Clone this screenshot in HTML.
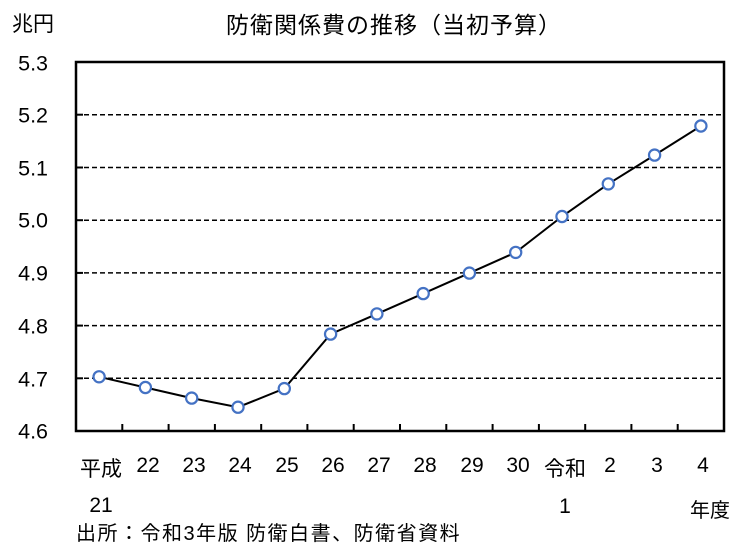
<!DOCTYPE html>
<html><head><meta charset="utf-8">
<style>
html,body{margin:0;padding:0;background:#fff;}
svg{display:block;}
text{font-family:"Liberation Sans","Noto Sans CJK JP",sans-serif;fill:#000;}
</style></head>
<body>
<svg width="750" height="560" viewBox="0 0 750 560" xmlns="http://www.w3.org/2000/svg">
<rect width="750" height="560" fill="#fff"/>
<!-- title -->
<text x="394" y="33" font-size="23" text-anchor="middle" letter-spacing="1">防衛関係費の推移（当初予算）</text>
<text x="12" y="31" font-size="21">兆円</text>
<!-- gridlines -->
<g stroke="#000" stroke-width="1.5" stroke-dasharray="5,3">
<line x1="76" y1="114.7" x2="724" y2="114.7"/>
<line x1="76" y1="167.5" x2="724" y2="167.5"/>
<line x1="76" y1="220.2" x2="724" y2="220.2"/>
<line x1="76" y1="272.9" x2="724" y2="272.9"/>
<line x1="76" y1="325.6" x2="724" y2="325.6"/>
<line x1="76" y1="378.3" x2="724" y2="378.3"/>
</g>
<g stroke="#000" stroke-width="2">
<line x1="76" y1="114.7" x2="83" y2="114.7"/>
<line x1="76" y1="167.5" x2="83" y2="167.5"/>
<line x1="76" y1="220.2" x2="83" y2="220.2"/>
<line x1="76" y1="272.9" x2="83" y2="272.9"/>
<line x1="76" y1="325.6" x2="83" y2="325.6"/>
<line x1="76" y1="378.3" x2="83" y2="378.3"/>
</g>
<!-- frame -->
<rect x="76" y="62" width="648" height="369" fill="none" stroke="#000" stroke-width="2.5"/>
<!-- x ticks -->
<g stroke="#000" stroke-width="2">
<line x1="122.3" y1="424" x2="122.3" y2="431"/>
<line x1="168.6" y1="424" x2="168.6" y2="431"/>
<line x1="214.9" y1="424" x2="214.9" y2="431"/>
<line x1="261.2" y1="424" x2="261.2" y2="431"/>
<line x1="307.4" y1="424" x2="307.4" y2="431"/>
<line x1="353.7" y1="424" x2="353.7" y2="431"/>
<line x1="400.0" y1="424" x2="400.0" y2="431"/>
<line x1="446.3" y1="424" x2="446.3" y2="431"/>
<line x1="492.6" y1="424" x2="492.6" y2="431"/>
<line x1="538.9" y1="424" x2="538.9" y2="431"/>
<line x1="585.2" y1="424" x2="585.2" y2="431"/>
<line x1="631.4" y1="424" x2="631.4" y2="431"/>
<line x1="677.7" y1="424" x2="677.7" y2="431"/>
</g>
<!-- y labels -->
<g font-size="21.5" text-anchor="end">
<text x="48" y="70.5">5.3</text>
<text x="48" y="122.5">5.2</text>
<text x="48" y="175.5">5.1</text>
<text x="48" y="227.5">5.0</text>
<text x="48" y="280.5">4.9</text>
<text x="48" y="333.5">4.8</text>
<text x="48" y="386.5">4.7</text>
<text x="48" y="438.5">4.6</text>
</g>
<!-- series -->
<polyline fill="none" stroke="#000" stroke-width="2" points="99.1,376.8 145.4,387.5 191.7,398.1 238.0,407.2 284.3,388.6 330.6,334.1 376.9,313.9 423.2,293.6 469.4,273.1 515.7,252.4 562.0,216.5 608.3,183.9 654.6,155.1 700.9,126.0"/>
<g fill="#fff" stroke="#4472c4" stroke-width="2.2">
<circle cx="99.1" cy="376.8" r="5.6"/>
<circle cx="145.4" cy="387.5" r="5.6"/>
<circle cx="191.7" cy="398.1" r="5.6"/>
<circle cx="238.0" cy="407.2" r="5.6"/>
<circle cx="284.3" cy="388.6" r="5.6"/>
<circle cx="330.6" cy="334.1" r="5.6"/>
<circle cx="376.9" cy="313.9" r="5.6"/>
<circle cx="423.2" cy="293.6" r="5.6"/>
<circle cx="469.4" cy="273.1" r="5.6"/>
<circle cx="515.7" cy="252.4" r="5.6"/>
<circle cx="562.0" cy="216.5" r="5.6"/>
<circle cx="608.3" cy="183.9" r="5.6"/>
<circle cx="654.6" cy="155.1" r="5.6"/>
<circle cx="700.9" cy="126.0" r="5.6"/>
</g>
<!-- x labels -->
<g font-size="21" text-anchor="middle">
<text x="101" y="476">平成</text>
<text x="101" y="512">21</text>
<text x="148" y="472">22</text>
<text x="194" y="472">23</text>
<text x="240" y="472">24</text>
<text x="287" y="472">25</text>
<text x="333" y="472">26</text>
<text x="379" y="472">27</text>
<text x="425" y="472">28</text>
<text x="472" y="472">29</text>
<text x="518" y="472">30</text>
<text x="565" y="476">令和</text>
<text x="565" y="513">1</text>
<text x="610" y="472">2</text>
<text x="657" y="472">3</text>
<text x="703" y="472">4</text>
</g>
<text x="690" y="517" font-size="20">年度</text>
<text x="76" y="540" font-size="20" letter-spacing="1.5">出所：令和3年版  防衛白書、防衛省資料</text>
</svg>
</body></html>
